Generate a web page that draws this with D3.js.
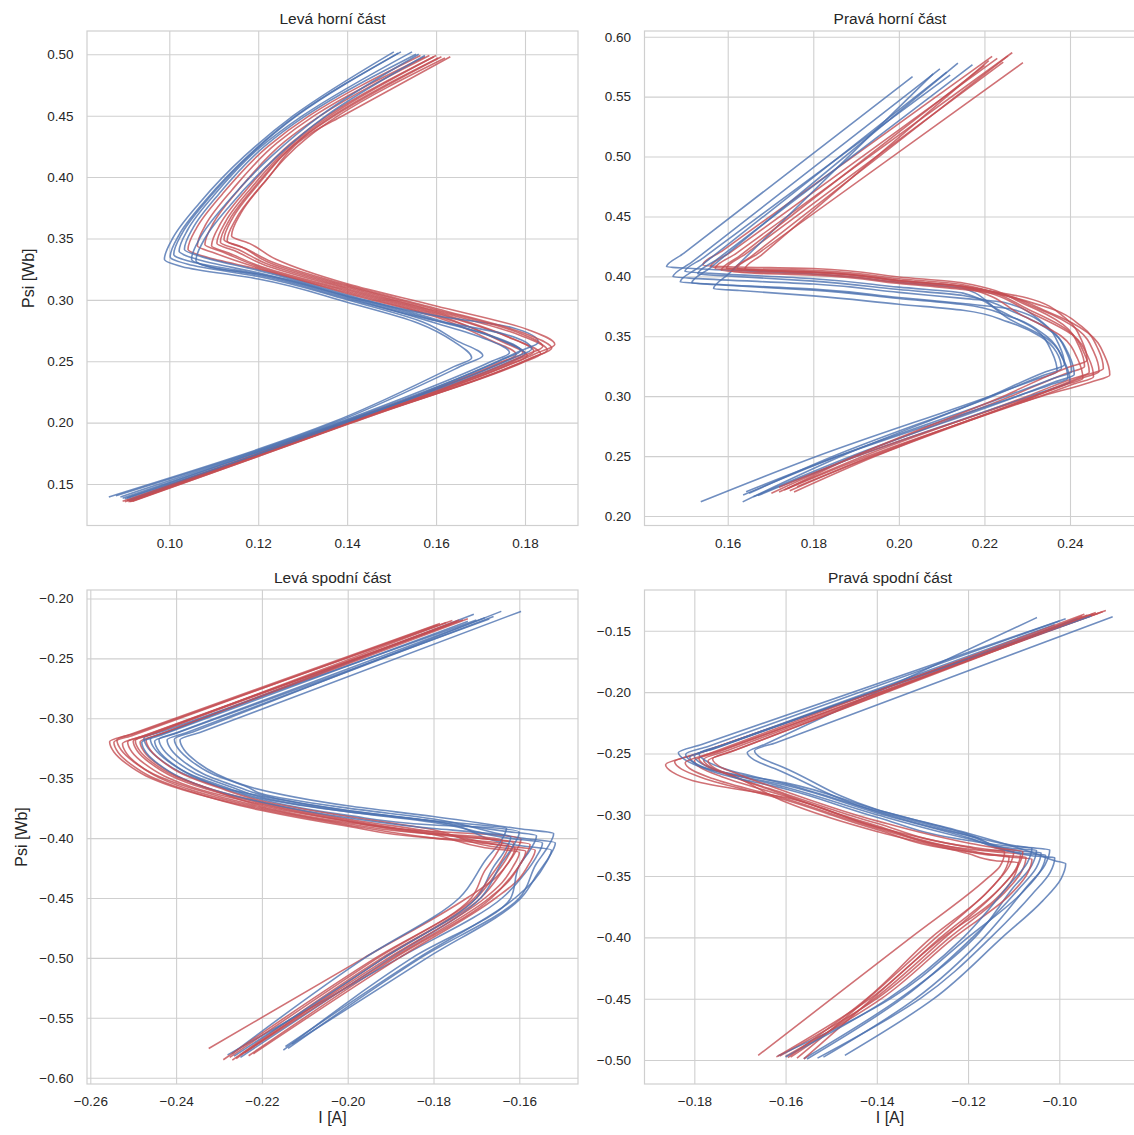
<!DOCTYPE html>
<html>
<head>
<meta charset="utf-8">
<script src="https://cdn.jsdelivr.net/npm/d3@7"></script>
<style>
  body { margin: 0; background: #ffffff; }
  svg { display: block; }
</style>
</head>
<body>
<svg id="chart" width="1134" height="1135"></svg>
<script>
// Psi–I trajectories, one curve per measured cycle, each curve is a list of [I (A), Psi (Wb)] points.
// "Modre" = blue runs, "Cervene" = red runs.

const levaHorniModre = [
  [[0.1505,0.502],[0.1279,0.450],[0.1169,0.417],[0.1067,0.3785],[0.1009,0.351],[0.0989,0.333],[0.1029,0.327],[0.1200,0.317],[0.1400,0.298],[0.1560,0.281],[0.1640,0.266],[0.1680,0.2526],[0.1640,0.2456],[0.1365,0.200],[0.0864,0.1395]],
  [[0.1515,0.501],[0.1285,0.450],[0.1182,0.419],[0.1080,0.3805],[0.1022,0.353],[0.1002,0.335],[0.1042,0.329],[0.1200,0.319],[0.1400,0.300],[0.1570,0.282],[0.1645,0.267],[0.1705,0.2545],[0.1665,0.2475],[0.1372,0.200],[0.0880,0.1405]],
  [[0.1521,0.502],[0.1287,0.450],[0.1190,0.421],[0.1088,0.3825],[0.1030,0.355],[0.1010,0.337],[0.1050,0.331],[0.1200,0.321],[0.1400,0.302],[0.1600,0.281],[0.1705,0.269],[0.1765,0.257],[0.1725,0.250],[0.1380,0.200],[0.0890,0.1395]],
  [[0.1546,0.502],[0.1300,0.450],[0.1202,0.4235],[0.1100,0.385],[0.1042,0.3575],[0.1022,0.3395],[0.1062,0.333],[0.1200,0.322],[0.1400,0.303],[0.1600,0.283],[0.1730,0.270],[0.1790,0.2585],[0.1750,0.2515],[0.1385,0.200],[0.0895,0.1385]],
  [[0.1555,0.500],[0.1307,0.450],[0.1214,0.425],[0.1112,0.3865],[0.1054,0.359],[0.1034,0.341],[0.1074,0.335],[0.1200,0.324],[0.1400,0.304],[0.1600,0.284],[0.1740,0.268],[0.1800,0.256],[0.1760,0.249],[0.1390,0.200],[0.0900,0.138]],
  [[0.1561,0.500],[0.1340,0.450],[0.1230,0.417],[0.1128,0.3785],[0.1070,0.351],[0.1050,0.333],[0.1090,0.327],[0.1200,0.320],[0.1400,0.301],[0.1600,0.283],[0.1755,0.272],[0.1815,0.260],[0.1775,0.253],[0.1395,0.200],[0.0910,0.137]],
  [[0.1575,0.499],[0.1353,0.450],[0.1240,0.416],[0.1138,0.3775],[0.1080,0.350],[0.1060,0.332],[0.1100,0.326],[0.1200,0.321],[0.1400,0.303],[0.1600,0.287],[0.1770,0.2775],[0.1830,0.2655],[0.1790,0.2585],[0.1400,0.200],[0.0905,0.1385]]
];

const levaHorniCervene = [
  [[0.1565,0.499],[0.1315,0.450],[0.1222,0.425],[0.1120,0.3865],[0.1062,0.359],[0.1042,0.341],[0.1082,0.335],[0.1200,0.325],[0.1400,0.305],[0.1600,0.286],[0.1720,0.2675],[0.1780,0.2555],[0.1740,0.2485],[0.1390,0.200],[0.0895,0.136]],
  [[0.1575,0.498],[0.1326,0.450],[0.1243,0.428],[0.1141,0.3895],[0.1083,0.362],[0.1063,0.344],[0.1103,0.338],[0.1200,0.326],[0.1400,0.306],[0.1600,0.287],[0.1735,0.269],[0.1795,0.257],[0.1755,0.250],[0.1395,0.200],[0.0900,0.1355]],
  [[0.1585,0.499],[0.1340,0.450],[0.1260,0.429],[0.1158,0.3905],[0.1100,0.363],[0.1080,0.345],[0.1120,0.339],[0.1200,0.327],[0.1400,0.307],[0.1600,0.288],[0.1745,0.2665],[0.1805,0.2545],[0.1765,0.2475],[0.1398,0.200],[0.0905,0.1365]],
  [[0.1595,0.498],[0.1356,0.450],[0.1275,0.428],[0.1173,0.3895],[0.1115,0.362],[0.1095,0.344],[0.1135,0.338],[0.1200,0.328],[0.1400,0.308],[0.1600,0.289],[0.1760,0.270],[0.1820,0.258],[0.1780,0.251],[0.1400,0.200],[0.0910,0.136]],
  [[0.1600,0.499],[0.1362,0.450],[0.1287,0.430],[0.1185,0.3915],[0.1127,0.364],[0.1107,0.346],[0.1147,0.340],[0.1210,0.329],[0.1400,0.309],[0.1600,0.290],[0.1775,0.268],[0.1835,0.256],[0.1795,0.249],[0.1402,0.200],[0.0912,0.1355]],
  [[0.1605,0.497],[0.1368,0.450],[0.1295,0.431],[0.1193,0.3925],[0.1135,0.365],[0.1115,0.347],[0.1155,0.341],[0.1215,0.330],[0.1400,0.310],[0.1600,0.291],[0.1790,0.271],[0.1850,0.259],[0.1810,0.252],[0.1405,0.200],[0.0905,0.1365]],
  [[0.1612,0.498],[0.1372,0.450],[0.1303,0.433],[0.1201,0.3945],[0.1143,0.367],[0.1123,0.349],[0.1163,0.343],[0.1220,0.331],[0.1400,0.311],[0.1600,0.292],[0.1780,0.274],[0.1840,0.262],[0.1800,0.255],[0.1408,0.200],[0.0915,0.136]],
  [[0.1620,0.497],[0.1380,0.450],[0.1310,0.432],[0.1208,0.3935],[0.1150,0.366],[0.1130,0.348],[0.1170,0.342],[0.1230,0.331],[0.1400,0.312],[0.1600,0.293],[0.1800,0.2725],[0.1860,0.2605],[0.1820,0.2535],[0.1410,0.200],[0.0908,0.1355]],
  [[0.1632,0.498],[0.1390,0.450],[0.1320,0.436],[0.1218,0.3975],[0.1160,0.370],[0.1140,0.352],[0.1180,0.346],[0.1240,0.333],[0.1400,0.313],[0.1600,0.295],[0.1807,0.2757],[0.1867,0.2637],[0.1827,0.2567],[0.1412,0.200],[0.0918,0.136]]
];

const pravaHorniModre = [
  [[0.2032,0.5667],[0.1497,0.4191],[0.1457,0.408],[0.1517,0.4065],[0.1800,0.402],[0.2000,0.395],[0.2150,0.390],[0.2230,0.3725],[0.2320,0.3555],[0.2358,0.3365],[0.2370,0.3205],[0.2325,0.3145],[0.2213,0.300],[0.1810,0.250],[0.1537,0.2118]],
  [[0.2096,0.5732],[0.1516,0.4118],[0.1472,0.3996],[0.1532,0.3981],[0.1800,0.3936],[0.2000,0.3866],[0.2150,0.3816],[0.2247,0.3782],[0.2337,0.3612],[0.2375,0.3422],[0.2387,0.3262],[0.2342,0.3202],[0.2214,0.300],[0.1866,0.250],[0.1635,0.2118]],
  [[0.2112,0.5704],[0.1533,0.4076],[0.1489,0.3953],[0.1549,0.3938],[0.1800,0.3893],[0.2000,0.3823],[0.2150,0.3773],[0.2264,0.3726],[0.2354,0.3556],[0.2392,0.3366],[0.2404,0.3206],[0.2359,0.3146],[0.2251,0.300],[0.1858,0.250],[0.1636,0.2175]],
  [[0.2138,0.5780],[0.1560,0.4073],[0.1516,0.3945],[0.1576,0.3930],[0.1800,0.3885],[0.2000,0.3815],[0.2150,0.3765],[0.2255,0.3670],[0.2345,0.3500],[0.2383,0.3310],[0.2395,0.3150],[0.2350,0.3090],[0.2276,0.300],[0.1859,0.250],[0.1643,0.2203]],
  [[0.2172,0.5766],[0.1575,0.4142],[0.1530,0.4020],[0.1590,0.4005],[0.1800,0.3960],[0.2000,0.3890],[0.2150,0.3840],[0.2270,0.3700],[0.2360,0.3530],[0.2398,0.3340],[0.2410,0.3180],[0.2365,0.3120],[0.2277,0.300],[0.1890,0.250],[0.1660,0.2160]],
  [[0.2080,0.5690],[0.1603,0.4023],[0.1567,0.3897],[0.1627,0.3882],[0.1800,0.3837],[0.2000,0.3767],[0.2150,0.3717],[0.2255,0.3620],[0.2330,0.3500],[0.2368,0.3370],[0.2380,0.3230],[0.2335,0.3170],[0.2219,0.300],[0.1848,0.250],[0.1650,0.2190]],
  [[0.2120,0.5680],[0.1543,0.4155],[0.1500,0.4040],[0.1560,0.4025],[0.1800,0.3980],[0.2000,0.3910],[0.2150,0.3860],[0.2260,0.3640],[0.2350,0.3470],[0.2388,0.3280],[0.2400,0.3120],[0.2355,0.3060],[0.2307,0.300],[0.1903,0.250],[0.1670,0.2170]]
];

const pravaHorniCervene = [
  [[0.2218,0.5836],[0.1589,0.4217],[0.1542,0.4095],[0.1602,0.4080],[0.1800,0.4065],[0.2000,0.3995],[0.2150,0.3945],[0.2294,0.3768],[0.2384,0.3598],[0.2422,0.3408],[0.2434,0.3248],[0.2389,0.3188],[0.2262,0.300],[0.1897,0.250],[0.1702,0.2189]],
  [[0.2230,0.5820],[0.1607,0.4202],[0.1560,0.4080],[0.1620,0.4065],[0.1800,0.4050],[0.2000,0.3980],[0.2150,0.3930],[0.2305,0.3720],[0.2395,0.3550],[0.2433,0.3360],[0.2445,0.3200],[0.2400,0.3140],[0.2300,0.300],[0.1918,0.250],[0.1720,0.2200]],
  [[0.2265,0.5867],[0.1620,0.4192],[0.1571,0.4066],[0.1631,0.4051],[0.1800,0.4036],[0.2000,0.3966],[0.2150,0.3916],[0.2315,0.3683],[0.2405,0.3513],[0.2443,0.3323],[0.2455,0.3163],[0.2410,0.3103],[0.2330,0.300],[0.1928,0.250],[0.1732,0.2217]],
  [[0.2244,0.5788],[0.1642,0.4187],[0.1597,0.4066],[0.1657,0.4051],[0.1800,0.4036],[0.2000,0.3966],[0.2150,0.3916],[0.2328,0.3726],[0.2418,0.3556],[0.2456,0.3366],[0.2468,0.3206],[0.2423,0.3146],[0.2319,0.300],[0.1936,0.250],[0.1745,0.2210]],
  [[0.2290,0.5783],[0.1669,0.4186],[0.1622,0.4066],[0.1682,0.4051],[0.1800,0.4036],[0.2000,0.3966],[0.2150,0.3916],[0.2353,0.3697],[0.2443,0.3527],[0.2481,0.3337],[0.2493,0.3177],[0.2448,0.3117],[0.2334,0.300],[0.1942,0.250],[0.1762,0.2245]],
  [[0.2200,0.5760],[0.1628,0.4170],[0.1585,0.4050],[0.1645,0.4035],[0.1800,0.4020],[0.2000,0.3950],[0.2150,0.3900],[0.2300,0.3820],[0.2390,0.3650],[0.2428,0.3460],[0.2440,0.3300],[0.2395,0.3240],[0.2244,0.300],[0.1897,0.250],[0.1740,0.2230]],
  [[0.2255,0.5840],[0.1655,0.4166],[0.1610,0.4040],[0.1670,0.4025],[0.1800,0.4010],[0.2000,0.3940],[0.2150,0.3890],[0.2338,0.3750],[0.2428,0.3580],[0.2466,0.3390],[0.2478,0.3230],[0.2433,0.3170],[0.2317,0.300],[0.1946,0.250],[0.1755,0.2200]],
  [[0.2210,0.5800],[0.1680,0.4182],[0.1640,0.4060],[0.1700,0.4045],[0.1800,0.4030],[0.2000,0.3960],[0.2150,0.3910],[0.2290,0.3670],[0.2380,0.3500],[0.2418,0.3310],[0.2430,0.3150],[0.2385,0.3090],[0.2313,0.300],[0.1903,0.250],[0.1720,0.2240]]
];

const levaSpodniModre = [
  [[-0.1596,-0.2107],[-0.2343,-0.3116],[-0.2391,-0.3180],[-0.2381,-0.3265],[-0.2351,-0.3365],[-0.2306,-0.3465],[-0.2221,-0.3580],[-0.2000,-0.3730],[-0.1800,-0.3820],[-0.1600,-0.3922],[-0.1520,-0.3962],[-0.1535,-0.4082],[-0.1560,-0.4212],[-0.1600,-0.4500],[-0.1830,-0.5000],[-0.2139,-0.5756]],
  [[-0.1642,-0.2107],[-0.2358,-0.3110],[-0.2404,-0.3174],[-0.2394,-0.3259],[-0.2364,-0.3359],[-0.2319,-0.3459],[-0.2234,-0.3574],[-0.2200,-0.3630],[-0.2000,-0.3750],[-0.1800,-0.3840],[-0.1596,-0.3999],[-0.1516,-0.4039],[-0.1531,-0.4159],[-0.1556,-0.4289],[-0.1596,-0.4500],[-0.1815,-0.5000],[-0.2130,-0.5720]],
  [[-0.1660,-0.2150],[-0.2375,-0.3118],[-0.2421,-0.3180],[-0.2411,-0.3265],[-0.2381,-0.3365],[-0.2336,-0.3465],[-0.2251,-0.3580],[-0.2200,-0.3640],[-0.2000,-0.3770],[-0.1800,-0.3860],[-0.1605,-0.4060],[-0.1525,-0.4100],[-0.1540,-0.4220],[-0.1565,-0.4350],[-0.1610,-0.4500],[-0.1835,-0.5000],[-0.2145,-0.5740]],
  [[-0.1680,-0.2160],[-0.2394,-0.3114],[-0.2440,-0.3175],[-0.2430,-0.3260],[-0.2400,-0.3360],[-0.2355,-0.3460],[-0.2270,-0.3575],[-0.2200,-0.3660],[-0.2000,-0.3780],[-0.1800,-0.3870],[-0.1626,-0.4000],[-0.1546,-0.4040],[-0.1561,-0.4160],[-0.1586,-0.4290],[-0.1640,-0.4500],[-0.1880,-0.5000],[-0.2280,-0.5810]],
  [[-0.1706,-0.2132],[-0.2415,-0.3108],[-0.2460,-0.3170],[-0.2450,-0.3255],[-0.2420,-0.3355],[-0.2375,-0.3455],[-0.2290,-0.3570],[-0.2200,-0.3670],[-0.2000,-0.3780],[-0.1800,-0.3855],[-0.1710,-0.3885],[-0.1630,-0.3916],[-0.1645,-0.4036],[-0.1675,-0.4166],[-0.1740,-0.4500],[-0.1960,-0.5000],[-0.2270,-0.5800]],
  [[-0.1700,-0.2180],[-0.2429,-0.3106],[-0.2475,-0.3165],[-0.2465,-0.3250],[-0.2435,-0.3350],[-0.2390,-0.3450],[-0.2305,-0.3565],[-0.2200,-0.3680],[-0.2000,-0.3810],[-0.1800,-0.3890],[-0.1680,-0.3910],[-0.1600,-0.3950],[-0.1615,-0.4070],[-0.1640,-0.4200],[-0.1690,-0.4500],[-0.1900,-0.5000],[-0.2250,-0.5830]],
  [[-0.1670,-0.2170],[-0.2403,-0.3129],[-0.2450,-0.3190],[-0.2440,-0.3275],[-0.2410,-0.3375],[-0.2365,-0.3475],[-0.2280,-0.3590],[-0.2200,-0.3650],[-0.2000,-0.3770],[-0.1800,-0.3860],[-0.1640,-0.3940],[-0.1560,-0.3980],[-0.1575,-0.4100],[-0.1600,-0.4230],[-0.1620,-0.4500],[-0.1850,-0.5000],[-0.2150,-0.5770]],
  [[-0.1720,-0.2190],[-0.2434,-0.3139],[-0.2480,-0.3200],[-0.2470,-0.3285],[-0.2440,-0.3385],[-0.2395,-0.3485],[-0.2310,-0.3600],[-0.2200,-0.3700],[-0.2000,-0.3830],[-0.1800,-0.3920],[-0.1700,-0.3950],[-0.1620,-0.3990],[-0.1635,-0.4110],[-0.1660,-0.4240],[-0.1700,-0.4500],[-0.1915,-0.5000],[-0.2265,-0.5820]]
];

const levaSpodniCervene = [
  [[-0.1785,-0.2208],[-0.2509,-0.3137],[-0.2555,-0.3196],[-0.2545,-0.3281],[-0.2515,-0.3381],[-0.2470,-0.3481],[-0.2385,-0.3596],[-0.2200,-0.3760],[-0.2000,-0.3890],[-0.1800,-0.4000],[-0.1690,-0.4040],[-0.1610,-0.4080],[-0.1625,-0.4200],[-0.1655,-0.4330],[-0.1722,-0.4500],[-0.1962,-0.5000],[-0.2324,-0.5756]],
  [[-0.1756,-0.2184],[-0.2491,-0.3120],[-0.2538,-0.3180],[-0.2528,-0.3265],[-0.2498,-0.3365],[-0.2453,-0.3465],[-0.2368,-0.3580],[-0.2200,-0.3740],[-0.2000,-0.3870],[-0.1800,-0.3945],[-0.1676,-0.3968],[-0.1596,-0.4008],[-0.1611,-0.4128],[-0.1636,-0.4258],[-0.1690,-0.4500],[-0.1920,-0.5000],[-0.2269,-0.5854]],
  [[-0.1731,-0.2178],[-0.2466,-0.3135],[-0.2513,-0.3196],[-0.2503,-0.3281],[-0.2473,-0.3381],[-0.2428,-0.3481],[-0.2343,-0.3596],[-0.2200,-0.3720],[-0.2000,-0.3860],[-0.1800,-0.3970],[-0.1655,-0.4014],[-0.1575,-0.4054],[-0.1590,-0.4174],[-0.1615,-0.4304],[-0.1665,-0.4500],[-0.1890,-0.5000],[-0.2231,-0.5817]],
  [[-0.1770,-0.2200],[-0.2456,-0.3131],[-0.2500,-0.3190],[-0.2490,-0.3275],[-0.2460,-0.3375],[-0.2415,-0.3475],[-0.2330,-0.3590],[-0.2200,-0.3710],[-0.2000,-0.3850],[-0.1800,-0.3960],[-0.1693,-0.4000],[-0.1613,-0.4040],[-0.1628,-0.4160],[-0.1653,-0.4290],[-0.1700,-0.4500],[-0.1915,-0.5000],[-0.2260,-0.5840]],
  [[-0.1745,-0.2190],[-0.2440,-0.3136],[-0.2484,-0.3196],[-0.2474,-0.3281],[-0.2444,-0.3381],[-0.2399,-0.3481],[-0.2314,-0.3596],[-0.2200,-0.3700],[-0.2000,-0.3840],[-0.1800,-0.3950],[-0.1643,-0.4060],[-0.1563,-0.4100],[-0.1578,-0.4220],[-0.1603,-0.4350],[-0.1655,-0.4500],[-0.1880,-0.5000],[-0.2220,-0.5800]],
  [[-0.1760,-0.2215],[-0.2479,-0.3150],[-0.2525,-0.3210],[-0.2515,-0.3295],[-0.2485,-0.3395],[-0.2440,-0.3495],[-0.2355,-0.3610],[-0.2200,-0.3750],[-0.2000,-0.3880],[-0.1800,-0.3965],[-0.1720,-0.3980],[-0.1640,-0.4020],[-0.1655,-0.4140],[-0.1680,-0.4270],[-0.1712,-0.4500],[-0.1930,-0.5000],[-0.2275,-0.5830]],
  [[-0.1720,-0.2170],[-0.2425,-0.3119],[-0.2470,-0.3180],[-0.2460,-0.3265],[-0.2430,-0.3365],[-0.2385,-0.3465],[-0.2300,-0.3580],[-0.2200,-0.3690],[-0.2000,-0.3820],[-0.1800,-0.3930],[-0.1665,-0.4070],[-0.1585,-0.4110],[-0.1600,-0.4230],[-0.1625,-0.4360],[-0.1670,-0.4500],[-0.1895,-0.5000],[-0.2240,-0.5790]],
  [[-0.1790,-0.2220],[-0.2500,-0.3141],[-0.2545,-0.3200],[-0.2535,-0.3285],[-0.2505,-0.3385],[-0.2460,-0.3485],[-0.2375,-0.3600],[-0.2200,-0.3770],[-0.2000,-0.3900],[-0.1800,-0.4000],[-0.1705,-0.4020],[-0.1625,-0.4060],[-0.1640,-0.4180],[-0.1665,-0.4310],[-0.1705,-0.4500],[-0.1935,-0.5000],[-0.2290,-0.5850]],
  [[-0.1740,-0.2180],[-0.2450,-0.3125],[-0.2495,-0.3185],[-0.2485,-0.3270],[-0.2455,-0.3370],[-0.2410,-0.3470],[-0.2325,-0.3585],[-0.2200,-0.3730],[-0.2000,-0.3860],[-0.1800,-0.3970],[-0.1680,-0.4080],[-0.1600,-0.4120],[-0.1615,-0.4240],[-0.1640,-0.4370],[-0.1680,-0.4500],[-0.1905,-0.5000],[-0.2250,-0.5810]]
];

const pravaSpodniModre = [
  [[-0.0883,-0.1386],[-0.1621,-0.2412],[-0.1668,-0.2478],[-0.1653,-0.2538],[-0.1608,-0.2608],[-0.1400,-0.2957],[-0.1200,-0.3152],[-0.1050,-0.3320],[-0.1010,-0.3375],[-0.0986,-0.3400],[-0.0996,-0.3520],[-0.1036,-0.3700],[-0.1125,-0.4000],[-0.1275,-0.4500],[-0.1470,-0.4962]],
  [[-0.1049,-0.1392],[-0.1646,-0.2427],[-0.1684,-0.2493],[-0.1669,-0.2553],[-0.1624,-0.2623],[-0.1400,-0.2975],[-0.1200,-0.3170],[-0.1071,-0.3266],[-0.1021,-0.3286],[-0.1031,-0.3406],[-0.1071,-0.3586],[-0.1165,-0.4000],[-0.1315,-0.4500],[-0.1517,-0.4977]],
  [[-0.0986,-0.1401],[-0.1784,-0.2427],[-0.1835,-0.2493],[-0.1820,-0.2553],[-0.1775,-0.2623],[-0.1600,-0.2740],[-0.1400,-0.2960],[-0.1200,-0.3160],[-0.1090,-0.3295],[-0.1040,-0.3310],[-0.1050,-0.3430],[-0.1090,-0.3610],[-0.1190,-0.4000],[-0.1345,-0.4500],[-0.1553,-0.4992]],
  [[-0.1000,-0.1420],[-0.1770,-0.2443],[-0.1819,-0.2508],[-0.1804,-0.2568],[-0.1759,-0.2638],[-0.1600,-0.2760],[-0.1400,-0.2985],[-0.1200,-0.3185],[-0.1080,-0.3315],[-0.1030,-0.3330],[-0.1040,-0.3450],[-0.1080,-0.3630],[-0.1200,-0.4000],[-0.1370,-0.4500],[-0.1617,-0.4968]],
  [[-0.0960,-0.1400],[-0.1750,-0.2453],[-0.1800,-0.2520],[-0.1785,-0.2580],[-0.1740,-0.2650],[-0.1600,-0.2775],[-0.1400,-0.3000],[-0.1200,-0.3195],[-0.1100,-0.3275],[-0.1050,-0.3290],[-0.1060,-0.3410],[-0.1100,-0.3590],[-0.1185,-0.4000],[-0.1350,-0.4500],[-0.1560,-0.4990]],
  [[-0.0930,-0.1380],[-0.1738,-0.2433],[-0.1790,-0.2500],[-0.1775,-0.2560],[-0.1730,-0.2630],[-0.1600,-0.2750],[-0.1400,-0.2970],[-0.1200,-0.3170],[-0.1060,-0.3335],[-0.1010,-0.3350],[-0.1020,-0.3470],[-0.1060,-0.3650],[-0.1150,-0.4000],[-0.1305,-0.4500],[-0.1530,-0.4985]],
  [[-0.1010,-0.1450],[-0.1762,-0.2465],[-0.1810,-0.2530],[-0.1795,-0.2590],[-0.1750,-0.2660],[-0.1600,-0.2790],[-0.1400,-0.3020],[-0.1200,-0.3210],[-0.1110,-0.3255],[-0.1060,-0.3270],[-0.1070,-0.3390],[-0.1110,-0.3570],[-0.1210,-0.4000],[-0.1375,-0.4500],[-0.1600,-0.4975]]
];

const pravaSpodniCervene = [
  [[-0.0898,-0.1335],[-0.1805,-0.2517],[-0.1863,-0.2592],[-0.1848,-0.2652],[-0.1803,-0.2722],[-0.1600,-0.2860],[-0.1400,-0.3100],[-0.1200,-0.3265],[-0.1170,-0.3285],[-0.1120,-0.3300],[-0.1130,-0.3420],[-0.1160,-0.3525],[-0.1325,-0.4000],[-0.1499,-0.4500],[-0.1660,-0.4962]],
  [[-0.0914,-0.1356],[-0.1787,-0.2495],[-0.1843,-0.2568],[-0.1828,-0.2628],[-0.1783,-0.2698],[-0.1600,-0.2880],[-0.1400,-0.3120],[-0.1200,-0.3300],[-0.1123,-0.3331],[-0.1073,-0.3346],[-0.1083,-0.3466],[-0.1123,-0.3646],[-0.1240,-0.4000],[-0.1400,-0.4500],[-0.1613,-0.4968]],
  [[-0.0938,-0.1371],[-0.1748,-0.2489],[-0.1800,-0.2560],[-0.1785,-0.2620],[-0.1740,-0.2690],[-0.1600,-0.2850],[-0.1400,-0.3090],[-0.1200,-0.3280],[-0.1135,-0.3305],[-0.1085,-0.3320],[-0.1095,-0.3440],[-0.1135,-0.3620],[-0.1250,-0.4000],[-0.1405,-0.4500],[-0.1589,-0.4977]],
  [[-0.0925,-0.1360],[-0.1729,-0.2479],[-0.1780,-0.2550],[-0.1765,-0.2610],[-0.1720,-0.2680],[-0.1600,-0.2830],[-0.1400,-0.3070],[-0.1200,-0.3260],[-0.1150,-0.3285],[-0.1100,-0.3300],[-0.1110,-0.3420],[-0.1150,-0.3600],[-0.1270,-0.4000],[-0.1420,-0.4500],[-0.1575,-0.4985]],
  [[-0.0905,-0.1345],[-0.1737,-0.2468],[-0.1790,-0.2540],[-0.1775,-0.2600],[-0.1730,-0.2670],[-0.1600,-0.2840],[-0.1400,-0.3100],[-0.1200,-0.3290],[-0.1110,-0.3345],[-0.1060,-0.3360],[-0.1070,-0.3480],[-0.1110,-0.3660],[-0.1230,-0.4000],[-0.1390,-0.4500],[-0.1600,-0.4970]],
  [[-0.0950,-0.1380],[-0.1721,-0.2489],[-0.1770,-0.2560],[-0.1755,-0.2620],[-0.1710,-0.2690],[-0.1600,-0.2897],[-0.1400,-0.3137],[-0.1200,-0.3316],[-0.1140,-0.3375],[-0.1090,-0.3390],[-0.1100,-0.3510],[-0.1140,-0.3690],[-0.1255,-0.4000],[-0.1410,-0.4500],[-0.1560,-0.4990]],
  [[-0.0920,-0.1350],[-0.1710,-0.2473],[-0.1760,-0.2545],[-0.1745,-0.2605],[-0.1700,-0.2675],[-0.1600,-0.2810],[-0.1400,-0.3050],[-0.1200,-0.3230],[-0.1140,-0.3270],[-0.1080,-0.3300],[-0.1090,-0.3420],[-0.1130,-0.3600],[-0.1260,-0.4000],[-0.1415,-0.4500],[-0.1620,-0.4975]],
  [[-0.0945,-0.1365],[-0.1768,-0.2502],[-0.1820,-0.2575],[-0.1805,-0.2635],[-0.1760,-0.2705],[-0.1600,-0.2870],[-0.1400,-0.3110],[-0.1200,-0.3300],[-0.1160,-0.3325],[-0.1110,-0.3340],[-0.1120,-0.3460],[-0.1160,-0.3640],[-0.1280,-0.4000],[-0.1422,-0.4500],[-0.1595,-0.4980]]
];

// Tick values of each panel
const levaHorniTickyI   = [0.10, 0.12, 0.14, 0.16, 0.18];
const levaHorniTickyPsi = [0.15, 0.20, 0.25, 0.30, 0.35, 0.40, 0.45, 0.50];
const pravaHorniTickyI   = [0.16, 0.18, 0.20, 0.22, 0.24];
const pravaHorniTickyPsi = [0.20, 0.25, 0.30, 0.35, 0.40, 0.45, 0.50, 0.55, 0.60];
const levaSpodniTickyI   = [-0.26, -0.24, -0.22, -0.20, -0.18, -0.16];
const levaSpodniTickyPsi = [-0.60, -0.55, -0.50, -0.45, -0.40, -0.35, -0.30, -0.25, -0.20];
const pravaSpodniTickyI   = [-0.18, -0.16, -0.14, -0.12, -0.10];
const pravaSpodniTickyPsi = [-0.50, -0.45, -0.40, -0.35, -0.30, -0.25, -0.20, -0.15];

const nazvy = ["Levá horní část", "Pravá horní část", "Levá spodní část", "Pravá spodní část"];
const popisI = "I [A]";
const popisPsi = "Psi [Wb]";

// ---- layout and styling ----
const FONT = "'Liberation Sans', Arial, Helvetica, sans-serif";
const TEXT = "#262626";
const GRID = "#cfcfcf";
const BLUE = "#4c72b0";
const RED = "#c44e52";

const panels = [
  { title: nazvy[0], blue: levaHorniModre, red: levaHorniCervene,
    xTicks: levaHorniTickyI, yTicks: levaHorniTickyPsi,
    xDomain: [0.08149, 0.19192], yDomain: [0.1162, 0.51898],
    box: { x0: 87, x1: 578, y0: 31, y1: 525.5 }, yLabelX: 34, xLabel: false },
  { title: nazvy[1], blue: pravaHorniModre, red: pravaHorniCervene,
    xTicks: pravaHorniTickyI, yTicks: pravaHorniTickyPsi,
    xDomain: [0.14055, 0.25531], yDomain: [0.19207, 0.60476],
    box: { x0: 644.5, x1: 1135.5, y0: 31, y1: 525.5 }, yLabelX: null, xLabel: false },
  { title: nazvy[2], blue: levaSpodniModre, red: levaSpodniCervene,
    xTicks: levaSpodniTickyI, yTicks: levaSpodniTickyPsi,
    xDomain: [-0.26077, -0.14632], yDomain: [-0.60526, -0.19290],
    box: { x0: 87, x1: 578, y0: 590, y1: 1084 }, yLabelX: 26.5, xLabel: true },
  { title: nazvy[3], blue: pravaSpodniModre, red: pravaSpodniCervene,
    xTicks: pravaSpodniTickyI, yTicks: pravaSpodniTickyPsi,
    xDomain: [-0.19092, -0.0833], yDomain: [-0.51957, -0.11673],
    box: { x0: 644.5, x1: 1135.5, y0: 590, y1: 1084 }, yLabelX: null, xLabel: true }
];

const svg = d3.select("#chart");
svg.append("rect").attr("width", 1134).attr("height", 1135).attr("fill", "#ffffff");

const fmt = d3.format(".2f");

panels.forEach((p, i) => {
  const b = p.box;
  const x = d3.scaleLinear().domain(p.xDomain).range([b.x0, b.x1]);
  const y = d3.scaleLinear().domain(p.yDomain).range([b.y1, b.y0]);
  const g = svg.append("g").attr("class", "panel-" + i);

  const clipId = "clip-" + i;
  g.append("clipPath").attr("id", clipId)
    .append("rect").attr("x", b.x0).attr("y", b.y0)
    .attr("width", b.x1 - b.x0).attr("height", b.y1 - b.y0);

  // grid + tick labels via d3 axes
  const xAxis = d3.axisBottom(x).tickValues(p.xTicks).tickFormat(fmt)
    .tickSizeInner(-(b.y1 - b.y0)).tickSizeOuter(0).tickPadding(12.5);
  const yAxis = d3.axisLeft(y).tickValues(p.yTicks).tickFormat(fmt)
    .tickSizeInner(-(b.x1 - b.x0)).tickSizeOuter(0).tickPadding(13.5);

  const gx = g.append("g").attr("transform", `translate(0,${b.y1})`).call(xAxis);
  const gy = g.append("g").attr("transform", `translate(${b.x0},0)`).call(yAxis);
  [gx, gy].forEach(a => {
    a.select(".domain").remove();
    a.selectAll(".tick line").attr("stroke", GRID).attr("stroke-width", 1.1);
    a.selectAll(".tick text").attr("fill", TEXT)
      .style("font-family", FONT).style("font-size", "13.5px");
  });

  // frame
  g.append("rect").attr("x", b.x0).attr("y", b.y0)
    .attr("width", b.x1 - b.x0).attr("height", b.y1 - b.y0)
    .attr("fill", "none").attr("stroke", GRID).attr("stroke-width", 1.2);

  // curves (Psi falls monotonically along each run, so I is interpolated as a function of Psi)
  const line = d3.line().x(d => x(d[0])).y(d => y(d[1])).curve(d3.curveMonotoneY);
  const lines = g.append("g").attr("clip-path", `url(#${clipId})`);
  const n = Math.max(p.blue.length, p.red.length);
  for (let k = 0; k < n; k++) {
    if (p.blue[k]) {
      lines.append("path").attr("d", line(p.blue[k]))
        .attr("fill", "none").attr("stroke", BLUE).attr("stroke-opacity", 0.8)
        .attr("stroke-width", 1.6).attr("stroke-linejoin", "round");
    }
    if (p.red[k]) {
      lines.append("path").attr("d", line(p.red[k]))
        .attr("fill", "none").attr("stroke", RED).attr("stroke-opacity", 0.8)
        .attr("stroke-width", 1.6).attr("stroke-linejoin", "round");
    }
  }

  // title
  g.append("text").attr("x", (b.x0 + Math.min(b.x1, b.x0 + 491)) / 2).attr("y", b.y0 - 7)
    .attr("text-anchor", "middle").attr("fill", TEXT)
    .style("font-family", FONT).style("font-size", "15.5px").text(p.title);

  // axis labels
  if (p.yLabelX !== null) {
    const cy = (b.y0 + b.y1) / 2;
    g.append("text").attr("transform", `translate(${p.yLabelX},${cy}) rotate(-90)`)
      .attr("text-anchor", "middle").attr("fill", TEXT)
      .style("font-family", FONT).style("font-size", "16px").text(popisPsi);
  }
  if (p.xLabel) {
    g.append("text").attr("x", (b.x0 + b.x1) / 2).attr("y", b.y1 + 39)
      .attr("text-anchor", "middle").attr("fill", TEXT)
      .style("font-family", FONT).style("font-size", "16px").text(popisI);
  }
});
</script>
</body>
</html>
